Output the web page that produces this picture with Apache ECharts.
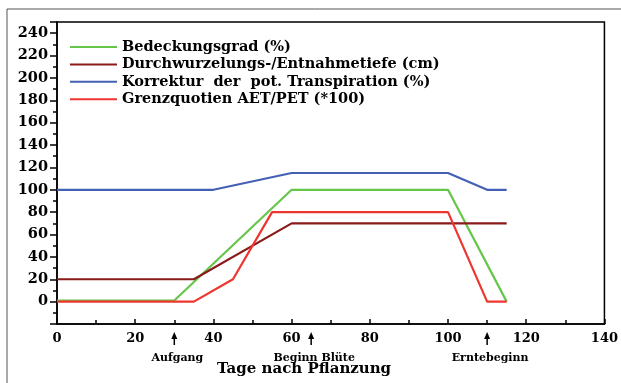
<!DOCTYPE html>
<html>
<head>
<meta charset="utf-8">
<script src="https://cdn.jsdelivr.net/npm/echarts@6/dist/echarts.min.js"></script>
<style>
html,body{margin:0;padding:0;background:#fff;}
#chart{width:621px;height:383px;}
</style>
</head>
<body>
<div id="chart"></div>
<script>
// Series names
const seriesNames = [
  'Bedeckungsgrad (%)',
  'Durchwurzelungs-/Entnahmetiefe (cm)',
  'Korrektur  der  pot. Transpiration (%)',
  'Grenzquotien AET/PET (*100)'
];
// Bedeckungsgrad
const greenX = [0, 30, 60, 100, 115];
const greenY = [1, 1, 100, 100, 0];
// Durchwurzelungs-/Entnahmetiefe
const rootX = [0, 35, 60, 115];
const rootY = [20, 20, 70, 70];
// Korrektur der pot. Transpiration
const blueX = [0, 40, 60, 100, 110, 115];
const blueY = [100, 100, 115, 115, 100, 100];
// Grenzquotient AET/PET
const redX = [0, 35, 45, 55, 100, 110, 115];
const redY = [0, 0, 20, 80, 80, 0, 0];
// Annotations below x axis
const annotX = [30, 65, 110];
const annotLabels = ['Aufgang', 'Beginn Blüte', 'Erntebeginn'];
const xTitle = 'Tage nach Pflanzung';

const colors = ['#66c64a', '#8b1a1a', '#4460b4', '#ee3530'];
const FONT = '"DejaVu Serif", "Liberation Serif", serif';

function pairs(xs, ys) { return xs.map((x, i) => [x, ys[i]]); }

const chart = echarts.init(document.getElementById('chart'), null, {renderer: 'canvas'});

const lineSeries = [
  [greenX, greenY], [rootX, rootY], [blueX, blueY], [redX, redY]
].map((d, i) => ({
  name: seriesNames[i],
  type: 'line',
  data: pairs(d[0], d[1]),
  symbol: 'none',
  lineStyle: {color: colors[i], width: 2.2},
  itemStyle: {color: colors[i]},
  animation: false,
  z: 3
}));

const annotSeries = {
  type: 'custom',
  data: annotX.map(x => [x, -20]),
  clip: false,
  silent: true,
  animation: false,
  renderItem: function (params, api) {
    const p = api.coord([api.value(0), api.value(1)]);
    const idx = params.dataIndex;
    return {
      type: 'group',
      children: [
        {type: 'line', shape: {x1: p[0], y1: p[1] + 13, x2: p[0], y2: p[1] + 21},
          style: {stroke: '#000', lineWidth: 1.5}},
        {type: 'polygon', shape: {points: [[p[0], p[1] + 8], [p[0] - 3, p[1] + 15], [p[0] + 3, p[1] + 15]]},
          style: {fill: '#000'}},
        {type: 'text', style: {text: annotLabels[idx], x: p[0] + 3, y: p[1] + 34,
          align: 'center', verticalAlign: 'middle',
          font: 'bold 11px ' + FONT, fill: '#000'}}
      ]
    };
  }
};

const option = {
  backgroundColor: '#fff',
  animation: false,
  grid: {left: 57, right: 15, top: 22, bottom: 59, show: true, borderColor: '#000', borderWidth: 1.5, backgroundColor: 'transparent'},
  legend: {
    data: seriesNames,
    orient: 'vertical',
    left: 70,
    top: 38.5,
    padding: 0,
    icon: 'rect',
    itemWidth: 47,
    itemHeight: 2,
    itemGap: 0.4,
    textStyle: {fontFamily: FONT, fontWeight: 'bold', fontSize: 14.5, color: '#000', lineHeight: 17}
  },
  graphic: [
    {type: 'rect', shape: {x: 7, y: 9, width: 700, height: 500}, style: {fill: 'none', stroke: '#555', lineWidth: 1}, silent: true, z: -1},
    {type: 'text', style: {text: xTitle, x: 304, y: 369, align: 'center', verticalAlign: 'middle',
      font: 'bold 15px ' + FONT, fill: '#000'}}
  ],
  xAxis: {
    type: 'value',
    min: 0, max: 140, interval: 20,
    axisLine: {onZero: false, lineStyle: {color: '#000', width: 1.5}},
    axisTick: {show: true, inside: true, length: 5, lineStyle: {color: '#000', width: 1.5}},
    minorTick: {show: true, splitNumber: 2, length: 4, lineStyle: {color: '#000', width: 1.5}},
    splitLine: {show: false},
    minorSplitLine: {show: false},
    axisLabel: {fontFamily: FONT, fontWeight: 'bold', fontSize: 13, color: '#000', margin: 8}
  },
  yAxis: {
    type: 'value',
    min: -20, max: 250, interval: 20,
    axisLine: {show: true, onZero: false, lineStyle: {color: '#000', width: 1.5}},
    axisTick: {show: true, inside: false, length: 7, lineStyle: {color: '#000', width: 1.5}},
    minorTick: {show: true, splitNumber: 2, length: 4, lineStyle: {color: '#000', width: 1.5}},
    splitLine: {show: false},
    minorSplitLine: {show: false},
    axisLabel: {
      fontFamily: FONT, fontWeight: 'bold', fontSize: 14.5, color: '#000', margin: 9,
      formatter: function (v) { return (v >= 0 && v <= 240 && v % 20 === 0) ? String(v) : ''; }
    }
  },
  series: lineSeries.concat([annotSeries])
};

chart.setOption(option);
</script>
</body>
</html>
